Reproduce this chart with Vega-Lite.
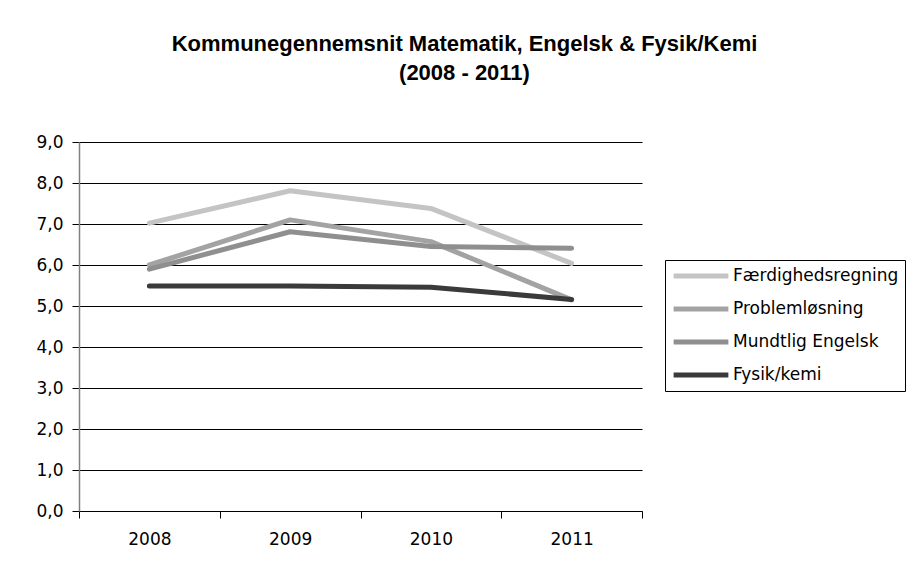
{
  "$schema": "https://vega.github.io/schema/vega-lite/v6.json",
  "autosize": {"type": "none"},
  "width": 563,
  "height": 369,
  "padding": {"left": 79, "top": 142, "right": 282, "bottom": 67},
  "background": "white",
  "title": {
    "text": ["Kommunegennemsnit Matematik, Engelsk & Fysik/Kemi", "(2008 - 2011)"],
    "font": "Liberation Sans",
    "fontSize": 22,
    "fontWeight": "bold",
    "color": "black",
    "anchor": "middle",
    "dx": 104,
    "offset": 48,
    "lineHeight": 29
  },
  "data": {
    "values": [
      {"year": "2008", "series": "Færdighedsregning", "value": 7.02},
      {"year": "2009", "series": "Færdighedsregning", "value": 7.81},
      {"year": "2010", "series": "Færdighedsregning", "value": 7.38},
      {"year": "2011", "series": "Færdighedsregning", "value": 6.04},
      {"year": "2008", "series": "Problemløsning", "value": 6.0},
      {"year": "2009", "series": "Problemløsning", "value": 7.1},
      {"year": "2010", "series": "Problemløsning", "value": 6.57},
      {"year": "2011", "series": "Problemløsning", "value": 5.15},
      {"year": "2008", "series": "Mundtlig Engelsk", "value": 5.9},
      {"year": "2009", "series": "Mundtlig Engelsk", "value": 6.81},
      {"year": "2010", "series": "Mundtlig Engelsk", "value": 6.45},
      {"year": "2011", "series": "Mundtlig Engelsk", "value": 6.41},
      {"year": "2008", "series": "Fysik/kemi", "value": 5.49},
      {"year": "2009", "series": "Fysik/kemi", "value": 5.49},
      {"year": "2010", "series": "Fysik/kemi", "value": 5.46},
      {"year": "2011", "series": "Fysik/kemi", "value": 5.16}
    ]
  },
  "mark": {"type": "line", "strokeWidth": 5, "strokeCap": "round", "strokeJoin": "round"},
  "encoding": {
    "x": {
      "field": "year",
      "type": "ordinal",
      "scale": {"type": "band", "paddingInner": 0, "paddingOuter": 0},
      "axis": {
        "title": null,
        "labelAngle": 0,
        "tickBand": "extent",
        "grid": false,
        "domainColor": "black",
        "tickColor": "black",
        "tickSize": 7,
        "labelPadding": 13,
        "labelFont": "DejaVu Sans",
        "labelFontSize": 17,
        "labelColor": "black"
      }
    },
    "y": {
      "field": "value",
      "type": "quantitative",
      "scale": {"domain": [0, 9], "nice": false},
      "axis": {
        "title": null,
        "values": [0, 1, 2, 3, 4, 5, 6, 7, 8, 9],
        "labelExpr": "replace(format(datum.value, '.1f'), '.', ',')",
        "grid": true,
        "gridColor": "black",
        "gridOpacity": 1,
        "gridWidth": 1,
        "domainColor": "#808080",
        "domainWidth": 1.5,
        "tickColor": "black",
        "tickSize": 7,
        "labelPadding": 9,
        "labelFont": "DejaVu Sans",
        "labelFontSize": 17,
        "labelColor": "black"
      }
    },
    "color": {
      "field": "series",
      "type": "nominal",
      "scale": {
        "domain": ["Færdighedsregning", "Problemløsning", "Mundtlig Engelsk", "Fysik/kemi"],
        "range": ["#c4c4c4", "#a3a3a3", "#8f8f8f", "#3a3a3a"]
      },
      "legend": {
        "title": null,
        "orient": "none",
        "legendX": 586,
        "legendY": 118,
        "symbolType": "stroke",
        "symbolSize": 3000,
        "symbolStrokeWidth": 5,
        "clipHeight": 20,
        "rowPadding": 13,
        "labelFont": "DejaVu Sans",
        "labelFontSize": 17,
        "labelColor": "black",
        "labelOffset": 2,
        "labelLimit": 300,
        "strokeColor": "black",
        "fillColor": "white",
        "padding": 6
      }
    }
  },
  "config": {
    "view": {"stroke": null},
    "axis": {"domainWidth": 1, "tickWidth": 1}
  }
}
